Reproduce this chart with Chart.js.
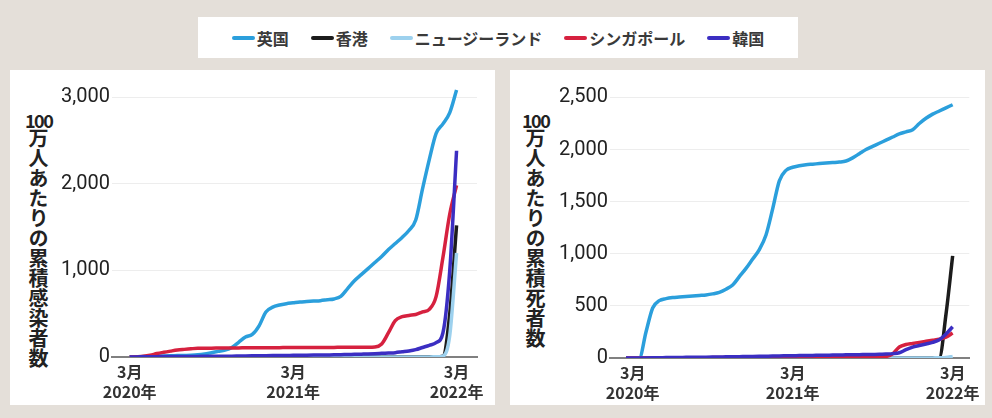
<!DOCTYPE html>
<html>
<head>
<meta charset="utf-8">
<script src="https://cdn.jsdelivr.net/npm/chart.js@4"></script>
<style>
  body { margin: 0; width: 992px; height: 418px; background: #e4dfd9; position: relative; overflow: hidden;
         font-family: "Noto Sans CJK JP", "Noto Sans", sans-serif; }
  #legend { position: absolute; left: 198px; top: 17px; width: 600px; height: 41px; background: #fff;
            display: flex; justify-content: center; align-items: center; gap: 22px; }
  .item { display: flex; align-items: center; font-size: 16px; font-weight: 700; color: #3a3a3a; }
  .sw { width: 23px; height: 4px; border-radius: 2px; margin-right: 2px; }
  .panel { position: absolute; top: 70px; height: 335px; background: #fff; }
  .num { position: absolute; top: 41px; font-size: 18px; font-weight: 700; letter-spacing: -1.5px; color: #222; line-height: 18px; }
  .vt { position: absolute; top: 58px; writing-mode: vertical-rl; font-size: 20px; font-weight: 700; line-height: 20px; color: #222; }
  canvas { position: absolute; left: 0; top: 0; }
</style>
</head>
<body>
<div id="legend"></div>
<div class="panel" style="left:10px;width:485px">
  <div class="num" style="left:15px">100</div>
  <div class="vt" style="left:18px">万人あたりの累積感染者数</div>
  <canvas id="casesChart" width="485" height="335"></canvas>
</div>
<div class="panel" style="left:510px;width:475px">
  <div class="num" style="left:12px">100</div>
  <div class="vt" style="left:15px">万人あたりの累積死者数</div>
  <canvas id="deathsChart" width="475" height="335"></canvas>
</div>
<script>
// series names / colours (legend order)
var names = ['英国', '香港', 'ニュージーランド', 'シンガポール', '韓国'];
var colors = ['#2b9fdc', '#1c1c1c', '#9dd1ee', '#d6213f', '#3b2ec2'];

// months since March 2020
var months = [-0.5, 0, 0.5, 1, 1.5, 2, 2.5, 3, 3.5, 4, 4.5, 5, 5.5, 6, 6.5, 7, 7.5, 8, 8.5, 9, 9.5,
  10, 10.5, 11, 11.5, 12, 12.5, 13, 13.5, 14, 14.5, 15, 15.5, 16, 16.5, 17, 17.5, 18, 18.5, 19, 19.5,
  20, 20.5, 21, 21.5, 22, 22.5, 23, 23.5, 24];
var tickMonths = [0, 12, 24];
var tickLabels = [['3月', '2020年'], ['3月', '2021年'], ['3月', '2022年']];
var casesTicks = [0, 1000, 2000, 3000];
var deathsTicks = [0, 500, 1000, 1500, 2000, 2500];

// cumulative cases per million
var ukCases = [null, 0, 2, 5, 8, 10, 12, 14, 16, 18, 20,
  25, 35, 50, 65, 80, 110, 170, 230, 260, 360,
  520, 575, 600, 615, 625, 635, 640, 645, 650, 660,
  670, 700, 790, 880, 950, 1020, 1090, 1160, 1240, 1310,
  1380, 1460, 1580, 1940, 2280, 2580, 2690, 2820, 3080];
var hkCases = [null, 0, 0, 0, 0, 0, 1, 1, 1, 1, 1,
  1, 1, 1, 1, 1, 1, 1, 2, 2, 2,
  2, 2, 2, 2, 2, 2, 2, 2, 2, 2,
  2, 2, 2, 2, 2, 2, 2, 2, 2, 2,
  2, 2, 2, 2, 2, 3, 10, 500, 1520];
var nzCases = [null, 0, 0, 0, 0, 0, 0, 0, 0, 0, 0,
  0, 0, 0, 0, 0, 0, 0, 0, 0, 0,
  0, 0, 0, 0, 0, 0, 0, 0, 0, 0,
  0, 0, 0, 0, 0, 0, 0, 1, 1, 1,
  1, 1, 1, 1, 1, 2, 10, 250, 1200];
var sgCases = [null, 0, 3, 8, 20, 40, 55, 68, 80, 88, 95,
  100, 100, 102, 103, 104, 105, 105, 106, 106, 107,
  107, 108, 108, 109, 109, 110, 110, 110, 111, 111,
  111, 112, 112, 112, 113, 113, 115, 150, 280, 420,
  465, 480, 490, 520, 550, 700, 1150, 1650, 1980];
var krCases = [null, 0, 1, 2, 3, 4, 5, 5, 6, 6, 7,
  7, 8, 8, 9, 10, 10, 11, 12, 13, 14,
  15, 16, 17, 18, 19, 20, 21, 22, 23, 24,
  25, 27, 29, 31, 33, 35, 38, 42, 46, 50,
  60, 70, 85, 110, 135, 165, 280, 1000, 2380];

// cumulative deaths per million
var ukDeaths = [0, 0, 0, 250, 480, 550, 570, 580, 585, 590, 595,
  600, 605, 615, 630, 660, 700, 780, 860, 950, 1040,
  1180, 1430, 1700, 1800, 1830, 1845, 1855, 1860, 1865, 1870,
  1875, 1880, 1890, 1920, 1960, 2000, 2030, 2060, 2090, 2120,
  2150, 2170, 2190, 2250, 2300, 2340, 2370, 2400, 2430];
var hkDeaths = [0, 0, 0, 0, 0, 0, 0, 0, 0, 0, 0,
  0, 0, 0, 0, 0, 0, 0, 0, 0, 0,
  0, 0, 0, 0, 0, 0, 0, 0, 0, 0,
  0, 0, 0, 0, 0, 0, 0, 0, 0, 0,
  0, 0, 0, 0, 0, 1, 3, 420, 980];
var nzDeaths = [0, 0, 0, 0, 0, 0, 0, 0, 0, 0, 0,
  0, 0, 0, 0, 0, 0, 0, 0, 0, 0,
  0, 0, 0, 0, 0, 0, 0, 0, 0, 0,
  0, 0, 0, 0, 0, 0, 0, 0, 0, 0,
  0, 0, 0, 0, 0, 1, 2, 5, 15];
var sgDeaths = [0, 0, 0, 0, 0, 1, 1, 2, 2, 3, 3,
  3, 3, 4, 4, 4, 4, 4, 5, 5, 5,
  5, 5, 5, 5, 5, 5, 5, 6, 6, 6,
  6, 6, 7, 7, 8, 10, 12, 13, 15, 40,
  105, 130, 140, 150, 160, 170, 180, 200, 240];
var krDeaths = [0, 0, 0, 1, 2, 3, 4, 5, 5, 6, 6,
  7, 8, 9, 10, 11, 12, 13, 14, 15, 16,
  17, 18, 20, 21, 22, 23, 24, 25, 26, 27,
  28, 29, 30, 31, 32, 33, 34, 35, 38, 42,
  50, 80, 105, 120, 135, 150, 175, 230, 300];

// legend
var legend = document.getElementById('legend');
for (let i = 0; i < names.length; i++) {
  var item = document.createElement('div');
  item.className = 'item';
  item.innerHTML = '<span class="sw" style="background:' + colors[i] + '"></span>' + names[i];
  legend.appendChild(item);
}

function makeDatasets(series) {
  var sets = [];
  for (let i = 0; i < series.length; i++) {
    var pts = [];
    for (let j = 0; j < months.length; j++) {
      pts.push({ x: months[j], y: series[i][j] });
    }
    sets.push({
      label: names[i],
      data: pts,
      borderColor: colors[i],
      borderWidth: 3.5,
      pointRadius: 0,
      cubicInterpolationMode: 'monotone',
      fill: false,
      order: i == 4 ? 0 : 5 - i
    });
  }
  return sets;
}

function makeChart(id, series, yTicks, xMin, xMax, yMax, yWidth, xHeight, padTop, padRight) {
  new Chart(document.getElementById(id), {
    type: 'line',
    data: { datasets: makeDatasets(series) },
    options: {
      responsive: false,
      animation: false,
      devicePixelRatio: 1,
      layout: { padding: { left: 0, right: padRight, top: padTop, bottom: 0 } },
      plugins: { legend: { display: false }, tooltip: { enabled: false } },
      scales: {
        x: {
          type: 'linear',
          min: xMin,
          max: xMax,
          afterBuildTicks: function (scale) {
            scale.ticks = tickMonths.map(function (v) { return { value: v }; });
          },
          afterFit: function (scale) { scale.height = xHeight; },
          grid: { display: false, drawTicks: false },
          border: { display: true, color: '#808080', width: 2 },
          ticks: {
            autoSkip: false,
            maxRotation: 0,
            padding: 5,
            color: '#333',
            font: { family: '"Noto Sans CJK JP", sans-serif', size: 16, weight: 'bold', lineHeight: 1.25 },
            callback: function (v) { return tickLabels[tickMonths.indexOf(v)]; }
          }
        },
        y: {
          min: 0,
          max: yMax,
          afterBuildTicks: function (scale) {
            scale.ticks = yTicks.map(function (v) { return { value: v }; });
          },
          afterFit: function (scale) { scale.width = yWidth; },
          grid: {
            drawTicks: false,
            color: function (c) { return c.tick && c.tick.value === 0 ? 'rgba(0,0,0,0)' : '#ededed'; }
          },
          border: { display: false },
          ticks: {
            padding: 2,
            color: '#222',
            font: { family: 'Roboto, sans-serif', size: 20 },
            callback: function (v) { return v.toLocaleString('en-US'); }
          }
        }
      }
    }
  });
}

makeChart('casesChart', [ukCases, hkCases, nzCases, sgCases, krCases], casesTicks, -1.3, 25.5, 3150, 102, 48, 14, 18);
makeChart('deathsChart', [ukDeaths, hkDeaths, nzDeaths, sgDeaths, krDeaths], deathsTicks, -1.7, 25.25, 2600, 100, 47, 17, 10);
</script>
</body>
</html>
